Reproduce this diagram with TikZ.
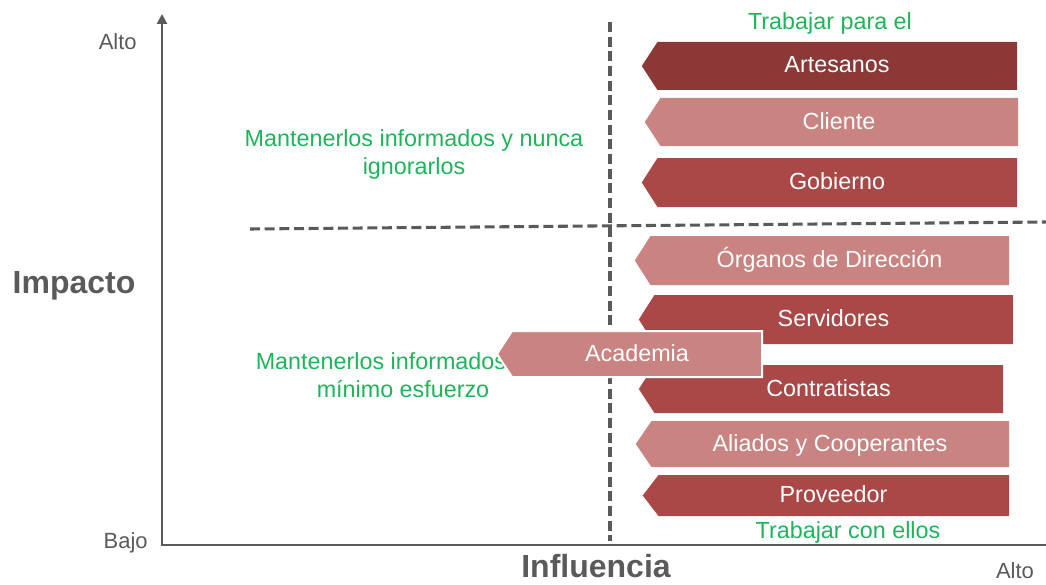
\documentclass[tikz,border=0pt]{standalone}
\usepackage{fontspec}
\setmainfont{Liberation Sans}
\usetikzlibrary{arrows.meta}
\definecolor{bardark}{RGB}{139,56,54}
\definecolor{barmid}{RGB}{169,72,70}
\definecolor{barlight}{RGB}{201,132,130}
\definecolor{notegreen}{RGB}{30,180,90}
\definecolor{axisgray}{RGB}{90,90,90}
\newcommand\stakebar[8]{% name, tip x, right x, top y, bottom y, fill, border, text
  \filldraw[fill=#6,draw=#7,line width=1.5pt] (#2,{(#4+#5)/2}) -- (#2+15,#4) -- (#3,#4) -- (#3,#5) -- (#2+15,#5) -- cycle;
  \node[bartext,anchor=base] (#1) at ({(#2+15+#3)/2},{(#4+#5)/2+7}) {#8};}
\begin{document}
\begin{tikzpicture}[x=0.75pt,y=-0.75pt,
  bartext/.style={text=white,font=\fontsize{17.5}{21}\selectfont,inner sep=0pt},
  note/.style={text=notegreen,font=\fontsize{17.5}{20.5}\selectfont,align=center,inner sep=0pt,anchor=base},
  axislabel/.style={text=axisgray,font=\fontsize{16.5}{20}\selectfont,inner sep=0pt,anchor=base},
  axistitle/.style={text=axisgray,font=\bfseries\fontsize{24}{28}\selectfont,inner sep=0pt,anchor=base},
  axisline/.style={draw=axisgray,line width=2.2pt},
  divider/.style={draw=axisgray,line width=2.3pt,dash pattern=on 7.5pt off 3.5pt}]
\useasboundingbox (0,0) rectangle (1046,585);
% dividers
\coordinate (vd1) at (610,22);
\coordinate (vd2) at (610,541);
\coordinate (hd1) at (250,229);
\coordinate (hd2) at (1046,222);
\draw[divider] (vd1) -- (vd2);
\draw[divider] (hd1) -- (hd2);
% axes
\coordinate (ytop) at (162,14);
\coordinate (orig) at (162,545);
\coordinate (xend) at (1046,545);
\draw[axisline,{Triangle[length=7.5pt,width=7.5pt]}-] (ytop) -- (orig) -- (xend);
% axis labels
\node[axislabel,anchor=base east] (yhigh) at (137,50) {Alto};
\node[axislabel,anchor=base east] (ylow) at (148,548) {Bajo};
\node[axislabel] (xhigh) at (1015,578) {Alto};
\node[axistitle] (ytitle) at (74,293) {Impacto};
\node[axistitle] (xtitle) at (596,577) {Influencia};
% notes (base anchor = last line)
\node[note] (ntop) at (830,30) {Trabajar para el};
\node[note] (nul) at (414,174) {Mantenerlos informados y nunca\\ignorarlos};
\node[note] (nll) at (403,397) {Mantenerlos informados con\\mínimo esfuerzo};
\node[note] (nbot) at (848,538) {Trabajar con ellos};
% bars
\stakebar{artesanos}{643}{1016}{43}{89}{bardark}{bardark}{Artesanos}
\stakebar{cliente}{646}{1017}{99}{145}{barlight}{barlight}{Cliente}
\stakebar{gobierno}{643}{1016}{159}{206}{barmid}{barmid}{Gobierno}
\stakebar{organos}{636}{1008}{237}{284}{barlight}{barlight}{Órganos de Dirección}
\stakebar{servidores}{640}{1012}{296}{343}{barmid}{barmid}{Servidores}
\stakebar{contratistas}{640}{1002}{366}{412}{barmid}{barmid}{Contratistas}
\stakebar{aliados}{637}{1008}{422}{466}{barlight}{barlight}{Aliados y Cooperantes}
\stakebar{proveedor}{644}{1008}{476}{515}{barmid}{barmid}{Proveedor}
\stakebar{academia}{497}{762}{331}{377}{barlight}{white}{Academia}
\end{tikzpicture}
\end{document}
